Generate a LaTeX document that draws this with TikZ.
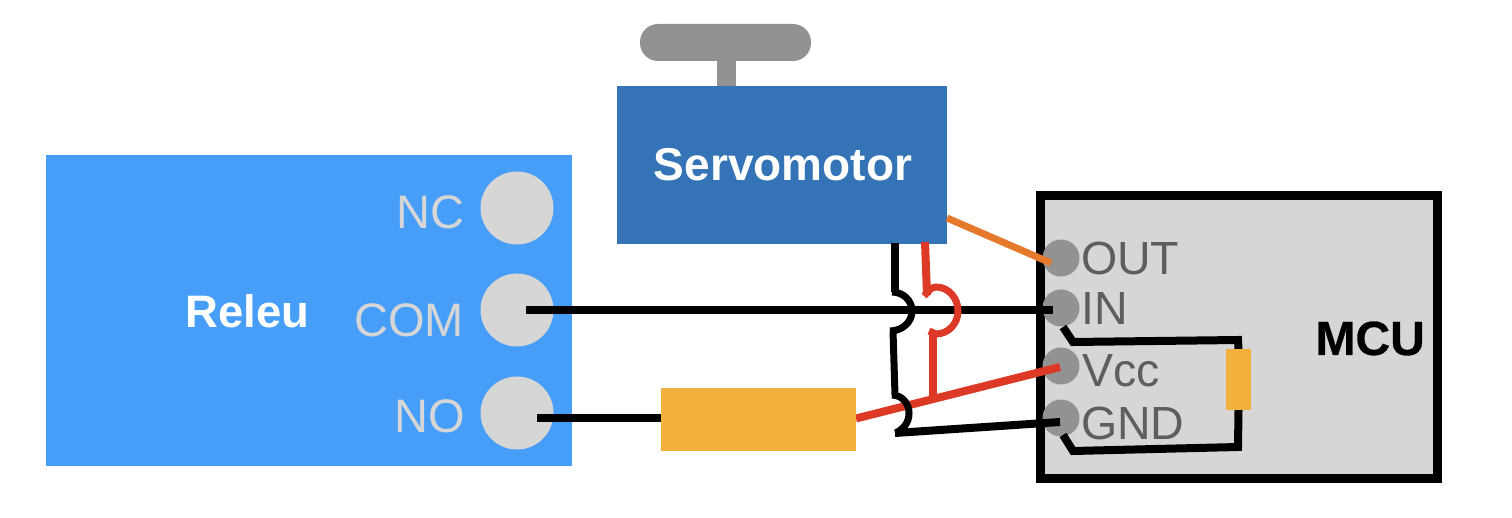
\documentclass[tikz,border=0pt]{standalone}
\usepackage{fontspec}
\setmainfont{Liberation Sans}
\newfontfamily\heavyfont[FakeBold=0.6]{Liberation Sans Bold}
\newcommand{\fs}[1]{\fontsize{#1}{#1}\selectfont}
\definecolor{relayblue}{HTML}{469EF8}
\definecolor{servoblue}{HTML}{3373B6}
\definecolor{handlegray}{HTML}{929292}
\definecolor{panelgray}{HTML}{D6D6D6}
\definecolor{pintext}{HTML}{5E5E5E}
\definecolor{resistor}{HTML}{F2B13C}
\definecolor{wirered}{HTML}{DC3A26}
\definecolor{wireorange}{HTML}{E57A2C}
\tikzset{
  box/.style={draw=none,inner sep=0pt,outer sep=0pt},
  terminal/.style={circle,fill=panelgray,draw=none,minimum size=73pt,inner sep=0pt,outer sep=0pt},
  pin/.style={circle,fill=handlegray,draw=none,minimum size=37pt,inner sep=0pt,outer sep=0pt},
  relaylabel/.style={anchor=base east,inner sep=0pt,text=panelgray,font=\fs{47}},
  pinlabel/.style={anchor=base west,inner sep=0pt,text=pintext,font=\fs{46.5}},
  titlelabel/.style={inner sep=0pt,text=white,font=\fs{45}\bfseries},
  blackwire/.style={draw=black,line width=8pt,miter limit=2},
  hopblack/.style={draw=black,line width=7pt},
  redwire/.style={draw=wirered,line width=8pt,miter limit=2},
  orangewire/.style={draw=wireorange,line width=7pt}
}
\begin{document}
\begin{tikzpicture}[x=1pt,y=-1pt]
\useasboundingbox (0,0) rectangle (1512,518);
% servo arm
\fill[handlegray] (717,55) rectangle (736,90);
\fill[handlegray,rounded corners=18pt] (640,24) rectangle (811,61);
% relay
\node[box,fill=relayblue,minimum width=526pt,minimum height=311pt] (relay) at (309,310.5) {};
\node[terminal] (nc) at (517,208) {};
\node[terminal] (com) at (517,310) {};
\node[terminal] (no) at (517,413) {};
\node[relaylabel] (nclabel) at (464.5,229) {NC};
\node[relaylabel] (comlabel) at (464,337) {COM};
\node[relaylabel] (nolabel) at (465,432) {NO};
\node[titlelabel,anchor=base west] (relaytitle) at (185,328) {\fs{45.5}Releu};
% servo
\node[box,fill=servoblue,minimum width=330pt,minimum height=158pt] (servo) at (782,165) {};
\node[titlelabel,anchor=base] (servotitle) at (783,181) {\fs{46}Servomotor};
% MCU
\node[box,fill=panelgray,draw=black,line width=9pt,minimum width=397pt,minimum height=283pt] (mcu) at (1239,337) {};
\node[anchor=base east,inner sep=0pt,font=\fs{48}\heavyfont] (mcutitle) at (1425,355) {MCU};
\node[pin] (out) at (1061,258) {};
\node[pin] (in) at (1061,308) {};
\node[pin] (vcc) at (1061,366) {};
\node[pin] (gnd) at (1061,418) {};
\node[pinlabel] (outlabel) at (1081,275) {OUT};
\node[pinlabel] (inlabel) at (1081,325) {IN};
\node[pinlabel] (vcclabel) at (1082,386) {Vcc};
\node[pinlabel] (gndlabel) at (1081,439) {GND};
% wire anchors
\coordinate (comend) at (526,310);
\coordinate (inend) at (1053,310);
\coordinate (noend) at (537,418);
\coordinate (vccend) at (1060,367);
\coordinate (gndend) at (1060,422);
\coordinate (outend) at (1051,263);
\coordinate (servoorange) at (947,218);
\coordinate (gndhop) at (895,433);
% resistors as named nodes
\node[box,minimum width=25pt,minimum height=61pt] (rsmall) at (1238.5,379.5) {};
\node[box,minimum width=195pt,minimum height=63pt] (rbig) at (758.5,419.5) {};
% wires
\draw[blackwire] (comend) -- (inend);
\draw[blackwire] (noend) -- (rbig.west |- noend);
\draw[redwire] (rbig.east) ++(0,-1) -- (vccend);
\draw[orangewire] (servoorange) -- (outend);
% black servo wire with hops
\draw[blackwire] (895,243) -- (895,292);
\draw[hopblack] (892,292) to[out=0,in=90] (912,311) to[out=-90,in=0] (890,331);
\draw[hopblack] (893,331) -- (895,395);
\draw[hopblack] (892,395) to[out=0,in=90] (909,413) to[out=-90,in=30] (896,433);
\draw[blackwire] (gndhop) -- (gndend);
% red servo wire with hop
\draw[redwire] (925,242) -- (927,295);
\draw[hopblack,draw=wirered] (924,296) to[out=40,in=180] (936,287) to[out=0,in=90] (958,311) to[out=-90,in=0] (936,334) -- (929,331);
\draw[redwire] (933,331) -- (933,398);
% MCU internal wires
\draw[blackwire] (1063,327) -- (1073,342) -- (1238,340) -- (rsmall.north);
\draw[blackwire] (1063,435) -- (1073,451) -- (1238,447) -- (rsmall.south);
% resistors
\fill[resistor] (rbig.south west) rectangle (rbig.north east);
\fill[resistor] (rsmall.south west) rectangle (rsmall.north east);
\end{tikzpicture}
\end{document}
